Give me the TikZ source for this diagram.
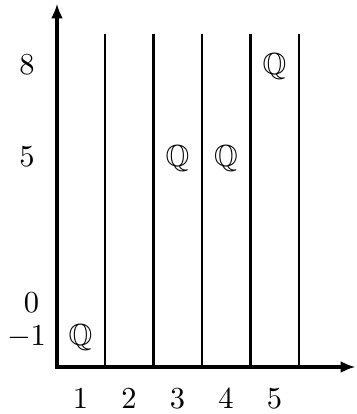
\documentclass[tikz,border=0pt]{standalone}
\usepackage{amssymb}
\usepackage{graphicx}
\usetikzlibrary{arrows.meta}
\newcommand\bigtxt[1]{\scalebox{3.05}{#1}}
\begin{document}
\begin{tikzpicture}[x=1pt,y=-1pt,
  lbl/.style={inner sep=0pt, anchor=base},
  axisline/.style={line width=3.7pt, -{Latex[length=15pt,width=12pt]}},
  gridline/.style={line width=2.3pt},
  boldgrid/.style={line width=3pt}]
\useasboundingbox (0,0) rectangle (356,414);
\coordinate (o) at (57,367);
\coordinate (xend) at (355.5,367);
\coordinate (yend) at (57,3.5);
\draw[axisline] ([xshift=-1.85pt]o) -- (xend);
\draw[axisline] ([yshift=1.85pt]o) -- (yend);
\foreach \x/\s in {105/gridline,153.5/gridline,202/gridline,250/boldgrid,299/gridline}
  \draw[\s] (\x,367) -- (\x,34);
% y labels
\node[lbl] (y8) at (27,75) {\bigtxt{$8$}};
\node[lbl] (y5) at (27,166) {\bigtxt{$5$}};
\node[lbl] (y0) at (31.5,312) {\bigtxt{$0$}};
\node[lbl] (ym1) at (26.5,345) {\bigtxt{$-1$}};
% x labels
\node[lbl] (x1) at (80.5,408) {\bigtxt{$1$}};
\node[lbl] (x2) at (129,408) {\bigtxt{$2$}};
\node[lbl] (x3) at (177.5,408) {\bigtxt{$3$}};
\node[lbl] (x4) at (226,408) {\bigtxt{$4$}};
\node[lbl] (x5) at (274.5,408) {\bigtxt{$5$}};
% Q marks
\node[lbl] (q1) at (80.5,345) {\bigtxt{$\mathbb{Q}$}};
\node[lbl] (q3) at (177.5,166) {\bigtxt{$\mathbb{Q}$}};
\node[lbl] (q4) at (226,166) {\bigtxt{$\mathbb{Q}$}};
\node[lbl] (q5) at (274.5,75) {\bigtxt{$\mathbb{Q}$}};
\end{tikzpicture}
\end{document}
